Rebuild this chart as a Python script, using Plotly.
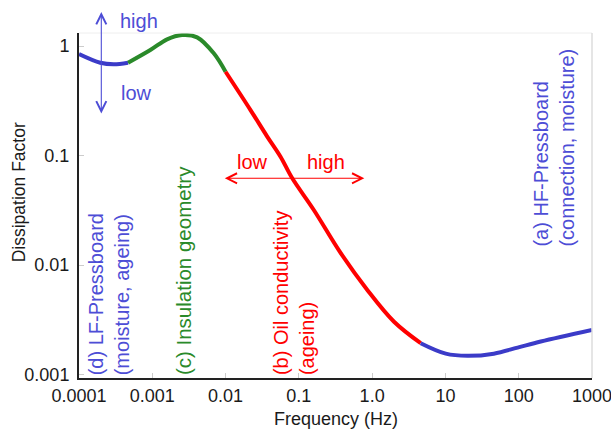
import plotly.graph_objects as go

# ---- data ----
freq_lf = [1e-4, 1.95e-4, 2.97e-4, 4.67e-4]
df_lf = [0.845, 0.704, 0.681, 0.704]

freq_geo = [4.67e-4, 9.4e-4, 1.59e-3, 2.55e-3, 4.09e-3, 6.9e-3, 0.0100]
df_geo = [0.704, 0.919, 1.151, 1.26, 1.20, 0.858, 0.582]

freq_oil = [0.0100, 0.0219, 0.0370, 0.0562, 0.0813, 0.160, 0.371, 0.859, 1.99, 4.60]
df_oil = [0.582, 0.260, 0.149, 0.0975, 0.0619, 0.0318, 0.0129, 0.00592, 0.00303, 0.00193]

freq_hf = [4.60, 10.1, 20.0, 45.7, 96.4, 200, 1000]
df_hf = [0.00193, 0.00155, 0.00148, 0.00155, 0.00176, 0.00200, 0.00255]

x_tickvals = [1e-4, 1e-3, 1e-2, 1e-1, 1, 10, 100, 1000]
x_ticktext = ["0.0001", "0.001", "0.01", "0.1", "1.0", "10", "100", "1000"]
y_tickvals = [0.001, 0.01, 0.1, 1]
y_ticktext = ["0.001", "0.01", "0.1", "1"]

BLUE = "#3b3bc8"
BLUE_T = "#4d4dd6"
GREEN = "#2a8a2a"
RED = "#ff0000"
FONT = "Liberation Sans, Arial, sans-serif"
DARK = "#1a1a1a"

W, H = 611, 429
L, R, T, B = 78.7, 19.3, 33, 51
PW, PH = W - L - R, H - T - B


def px(p):
    return (p - L) / PW


def py(p):
    return (H - B - p) / PH


fig = go.Figure()
for fx, fy, col in [(freq_lf, df_lf, BLUE), (freq_geo, df_geo, GREEN),
                    (freq_oil, df_oil, RED), (freq_hf, df_hf, BLUE)]:
    fig.add_trace(go.Scatter(x=fx, y=fy, mode="lines",
                             line=dict(color=col, width=4, shape="spline", smoothing=1),
                             showlegend=False, hoverinfo="skip"))

ann = []
# vertical blue double arrow
ann.append(dict(xref="paper", yref="paper", x=px(101), y=py(12), ax=0, ay=103,
                axref="pixel", ayref="pixel", text="", showarrow=True,
                arrowhead=5, startarrowhead=5, arrowside="end+start",
                arrowwidth=1.1, arrowsize=1.8, startarrowsize=1.8, arrowcolor=BLUE_T))
ann.append(dict(xref="paper", yref="paper", x=px(118), y=py(21), text="high",
                showarrow=False, xanchor="left", yanchor="middle",
                font=dict(size=20, color=BLUE_T, family=FONT)))
ann.append(dict(xref="paper", yref="paper", x=px(119), y=py(93), text="low",
                showarrow=False, xanchor="left", yanchor="middle",
                font=dict(size=20, color=BLUE_T, family=FONT)))
# horizontal red double arrow
ann.append(dict(xref="paper", yref="paper", x=px(364), y=py(178.3), ax=-141, ay=0,
                axref="pixel", ayref="pixel", text="", showarrow=True,
                arrowhead=5, startarrowhead=5, arrowside="end+start",
                arrowwidth=1.1, arrowsize=1.8, startarrowsize=1.8, arrowcolor=RED))
ann.append(dict(xref="paper", yref="paper", x=px(252), y=py(161.7), text="low",
                showarrow=False, xanchor="center", yanchor="middle",
                font=dict(size=20, color=RED, family=FONT)))
ann.append(dict(xref="paper", yref="paper", x=px(325.7), y=py(161.7), text="high",
                showarrow=False, xanchor="center", yanchor="middle",
                font=dict(size=20, color=RED, family=FONT)))
# rotated labels
ann.append(dict(xref="paper", yref="paper", x=px(109), y=py(377), textangle=-90,
                text="(d) LF-Pressboard<br>(moisture, ageing)", align="left",
                showarrow=False, xanchor="center", yanchor="bottom",
                font=dict(size=20, color=BLUE_T, family=FONT)))
ann.append(dict(xref="paper", yref="paper", x=px(183.3), y=py(377), textangle=-90,
                text="(c) Insulation geometry", align="left",
                showarrow=False, xanchor="center", yanchor="bottom",
                font=dict(size=20.5, color=GREEN, family=FONT)))
ann.append(dict(xref="paper", yref="paper", x=px(293.3), y=py(377), textangle=-90,
                text="(b) Oil conductivity<br>(ageing)", align="left",
                showarrow=False, xanchor="center", yanchor="bottom",
                font=dict(size=20, color=RED, family=FONT)))
ann.append(dict(xref="paper", yref="paper", x=px(553.3), y=py(249), textangle=-90,
                text="(a) HF-Pressboard<br>(connection, moisture)", align="left",
                showarrow=False, xanchor="center", yanchor="bottom",
                font=dict(size=20, color=BLUE_T, family=FONT)))
# axis titles
ann.append(dict(xref="paper", yref="paper", x=px(335.2), y=py(419), text="Frequency (Hz)",
                showarrow=False, xanchor="center", yanchor="middle",
                font=dict(size=18, color=DARK, family=FONT)))
ann.append(dict(xref="paper", yref="paper", x=px(19), y=py(192), text="Dissipation Factor",
                textangle=-90, showarrow=False, xanchor="center", yanchor="middle",
                font=dict(size=17.5, color=DARK, family=FONT)))

shapes = [
    dict(type="line", xref="paper", yref="paper", x0=0, x1=1, y0=1, y1=1,
         line=dict(color="#eeeeee", width=1)),
    dict(type="line", xref="paper", yref="paper", x0=1, x1=1, y0=0, y1=1,
         line=dict(color="#dddddd", width=1.5)),
]

fig.update_layout(
    width=W, height=H,
    margin=dict(l=L, r=R, t=T, b=B, pad=0, autoexpand=False),
    paper_bgcolor="white", plot_bgcolor="white",
    font=dict(family=FONT, size=18, color=DARK),
    annotations=ann, shapes=shapes,
    xaxis=dict(type="log", range=[-4, 3], tickmode="array", tickvals=x_tickvals,
               ticktext=x_ticktext, ticks="inside", ticklen=5, tickcolor="#cccccc",
               showgrid=False, zeroline=False, showline=True, linecolor="#222222",
               linewidth=2, automargin=False, ticklabeloverflow="allow",
               tickfont=dict(size=18, color=DARK)),
    yaxis=dict(type="log", range=[-3.032, 0.119], tickmode="array", tickvals=y_tickvals,
               ticktext=y_ticktext, ticks="inside", ticklen=5, tickcolor="#cccccc",
               showgrid=False, zeroline=False, showline=True, linecolor="#222222",
               linewidth=2, automargin=False, ticklabelstandoff=4,
               ticklabeloverflow="allow", tickfont=dict(size=18, color=DARK)),
)

fig.write_html("out.html")
